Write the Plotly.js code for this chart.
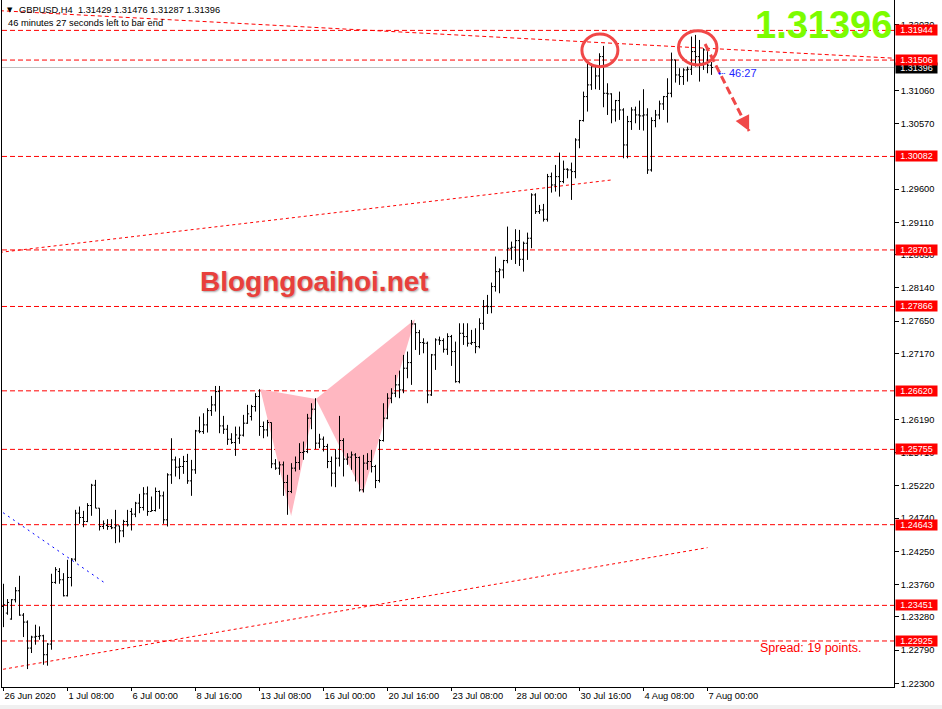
<!DOCTYPE html>
<html><head><meta charset="utf-8">
<script src="https://cdn.plot.ly/plotly-3.0.1.min.js"></script>
<style>html,body{margin:0;padding:0;background:#fff;}#chart{width:942px;height:709px;}</style>
</head><body><div id="chart"></div>
<script>
// ---- OHLC data (H4 bars, 26 Jun 2020 16:00 -> 7 Aug 2020 04:00) ----
const opens = [1.23435,1.23337,1.23249,1.23534,1.23667,1.23307,1.23204,1.22820,1.22983,1.22993,1.23002,1.22722,1.22879,1.23790,1.23952,1.23829,1.23593,1.23863,1.24134,1.24813,1.24749,1.24690,1.24926,1.25226,1.24887,1.24616,1.24631,1.24616,1.24597,1.24626,1.24552,1.24690,1.24838,1.24798,1.24961,1.24897,1.25098,1.24838,1.24852,1.25133,1.25069,1.24715,1.25379,1.25600,1.25492,1.25502,1.25576,1.25290,1.25453,1.26028,1.26018,1.26117,1.26328,1.26412,1.26609,1.26102,1.26053,1.25905,1.25856,1.25920,1.25965,1.26142,1.26240,1.26388,1.26536,1.26093,1.26043,1.26152,1.25542,1.25478,1.25527,1.25266,1.25133,1.25478,1.25561,1.25709,1.25724,1.26216,1.26349,1.25847,1.25906,1.25798,1.25576,1.25404,1.25625,1.25886,1.25611,1.25640,1.25674,1.25635,1.25158,1.25552,1.25576,1.25502,1.25296,1.25886,1.26216,1.26511,1.26585,1.26708,1.26634,1.26954,1.27037,1.27608,1.27480,1.27333,1.27323,1.26560,1.27151,1.27372,1.27362,1.27234,1.27421,1.27200,1.26756,1.27470,1.27421,1.27323,1.27333,1.27273,1.27618,1.27874,1.27864,1.28160,1.28381,1.28406,1.28544,1.28726,1.28741,1.28839,1.28563,1.28800,1.28874,1.29514,1.29267,1.29292,1.29154,1.29784,1.29661,1.29784,1.29711,1.29893,1.29883,1.29858,1.30326,1.30612,1.30966,1.31139,1.31409,1.31271,1.31557,1.31015,1.31006,1.30769,1.30907,1.30769,1.30252,1.30597,1.30769,1.30695,1.30681,1.30695,1.29883,1.30612,1.30695,1.30858,1.30966,1.31015,1.31508,1.31286,1.31262,1.31360,1.31370,1.31631,1.31557,1.31459,1.31656,1.31429];
const highs = [1.23770,1.23544,1.23544,1.23721,1.23888,1.23337,1.23229,1.23002,1.23165,1.23140,1.23017,1.22894,1.23918,1.24016,1.24001,1.23927,1.24124,1.24149,1.24862,1.24911,1.24847,1.24961,1.25246,1.25305,1.24887,1.24705,1.24724,1.24724,1.24862,1.24626,1.24715,1.24862,1.24887,1.24980,1.25098,1.25197,1.25207,1.25059,1.25192,1.25148,1.25133,1.25403,1.25920,1.25649,1.25625,1.25659,1.25689,1.25600,1.26043,1.26240,1.26289,1.26363,1.26545,1.26692,1.26692,1.26250,1.26117,1.25994,1.26092,1.26092,1.26265,1.26413,1.26413,1.26585,1.26644,1.26167,1.26191,1.26152,1.25611,1.25576,1.25576,1.25379,1.25552,1.25650,1.25847,1.25871,1.26280,1.26437,1.26511,1.25985,1.25945,1.25837,1.25650,1.25758,1.26250,1.25920,1.25699,1.25724,1.25699,1.25650,1.25674,1.25699,1.25748,1.25527,1.25906,1.26437,1.26585,1.26659,1.26855,1.26919,1.27151,1.27200,1.27667,1.27618,1.27520,1.27396,1.27347,1.27165,1.27396,1.27421,1.27396,1.27470,1.27446,1.27347,1.27618,1.27618,1.27618,1.27520,1.27544,1.27692,1.27962,1.28037,1.28219,1.28603,1.28430,1.28554,1.29046,1.28824,1.29007,1.28997,1.28824,1.28957,1.29538,1.29538,1.29366,1.29381,1.29824,1.29844,1.29957,1.30139,1.30021,1.29908,1.29991,1.30351,1.30622,1.31040,1.31459,1.31459,1.31409,1.31606,1.31715,1.31163,1.31015,1.30917,1.31040,1.30794,1.30681,1.30809,1.30818,1.30907,1.31075,1.30794,1.30661,1.30769,1.30907,1.30976,1.31237,1.31616,1.31508,1.31385,1.31385,1.31409,1.31853,1.31877,1.31803,1.31680,1.31656,1.31476];
const lows = [1.23130,1.23312,1.23239,1.23494,1.23298,1.22983,1.22510,1.22747,1.22870,1.22943,1.22574,1.22560,1.22796,1.23770,1.23770,1.23583,1.23583,1.23731,1.24100,1.24656,1.24606,1.24680,1.24774,1.24887,1.24557,1.24577,1.24567,1.24577,1.24370,1.24380,1.24459,1.24616,1.24557,1.24754,1.24813,1.24852,1.24774,1.24838,1.24838,1.24877,1.24656,1.24616,1.25246,1.25354,1.25315,1.25394,1.25246,1.25069,1.25394,1.25994,1.25984,1.26004,1.26250,1.26314,1.25994,1.25984,1.25822,1.25836,1.25659,1.25837,1.25945,1.26132,1.26181,1.26314,1.25955,1.25920,1.25945,1.25478,1.25453,1.25379,1.25069,1.24789,1.25109,1.25429,1.25453,1.25601,1.25699,1.26053,1.25758,1.25773,1.25724,1.25478,1.25207,1.25197,1.25502,1.25355,1.25527,1.25453,1.25281,1.25133,1.25119,1.25453,1.25414,1.25183,1.25266,1.25871,1.26201,1.26437,1.26526,1.26511,1.26585,1.26806,1.26708,1.27224,1.27151,1.27175,1.26437,1.26545,1.26929,1.27298,1.27185,1.27151,1.26988,1.26741,1.26731,1.27298,1.27273,1.27298,1.27175,1.27248,1.27520,1.27756,1.27766,1.28086,1.28061,1.28283,1.28504,1.28554,1.28494,1.28465,1.28381,1.28554,1.28726,1.29233,1.29233,1.29120,1.29120,1.29548,1.29563,1.29489,1.29686,1.29760,1.29440,1.29760,1.30203,1.30597,1.30745,1.31065,1.31075,1.31065,1.30809,1.30695,1.30572,1.30597,1.30622,1.30055,1.30055,1.30474,1.30572,1.30474,1.30464,1.29824,1.29858,1.30513,1.30631,1.30769,1.30582,1.30956,1.31173,1.31139,1.31139,1.31188,1.31286,1.31409,1.31188,1.31360,1.31311,1.31287];
const closes = [1.23460,1.23494,1.23534,1.23667,1.23307,1.23204,1.22820,1.22983,1.22993,1.23002,1.22722,1.22879,1.23790,1.23977,1.23829,1.23593,1.23863,1.24134,1.24813,1.24749,1.24690,1.24926,1.25226,1.24887,1.24616,1.24656,1.24616,1.24597,1.24626,1.24552,1.24690,1.24641,1.24798,1.24961,1.24897,1.25098,1.24838,1.24852,1.25133,1.25069,1.24715,1.25379,1.25600,1.25492,1.25502,1.25576,1.25290,1.25453,1.26028,1.26018,1.26117,1.26328,1.26412,1.26609,1.26102,1.26053,1.25905,1.25856,1.25969,1.25965,1.26142,1.26280,1.26388,1.26536,1.26093,1.26043,1.26152,1.25542,1.25478,1.25527,1.25266,1.25133,1.25478,1.25561,1.25709,1.25724,1.26216,1.26349,1.25847,1.25906,1.25798,1.25576,1.25404,1.25625,1.25886,1.25611,1.25640,1.25674,1.25635,1.25158,1.25552,1.25576,1.25502,1.25296,1.25886,1.26216,1.26511,1.26585,1.26708,1.26634,1.26954,1.27037,1.27608,1.27480,1.27333,1.27323,1.26560,1.27151,1.27372,1.27362,1.27234,1.27421,1.27200,1.26756,1.27470,1.27421,1.27323,1.27333,1.27273,1.27618,1.27864,1.27864,1.28160,1.28381,1.28406,1.28544,1.28726,1.28741,1.28839,1.28563,1.28800,1.28874,1.29514,1.29267,1.29292,1.29154,1.29784,1.29661,1.29784,1.29711,1.29893,1.29883,1.29858,1.30326,1.30612,1.30966,1.31139,1.31409,1.31271,1.31557,1.31015,1.31006,1.30769,1.30907,1.30769,1.30252,1.30597,1.30769,1.30695,1.30681,1.30695,1.29883,1.30612,1.30695,1.30858,1.30966,1.31015,1.31508,1.31286,1.31262,1.31360,1.31370,1.31631,1.31557,1.31459,1.31656,1.31430,1.31396];

// time axis labels (bar index of each label)
const timeTickIdx = [0,16,32,48,64,80,96,112,128,144,160,176];
const timeTickText = ["26 Jun 2020","1 Jul 08:00","6 Jul 00:00","8 Jul 16:00","13 Jul 08:00","16 Jul 00:00","20 Jul 16:00","23 Jul 08:00","28 Jul 00:00","30 Jul 16:00","4 Aug 08:00","7 Aug 00:00"];
// price axis labels (those fully hidden behind level tags are left out)
const priceTicks = [1.22300,1.22790,1.23280,1.23760,1.24250,1.24740,1.25220,1.25710,1.26190,1.27170,1.27650,1.28140,1.28630,1.29110,1.29600,1.30570,1.31060,1.32030];
// horizontal support/resistance levels
const levels = [1.31944,1.31506,1.30082,1.28701,1.27866,1.26620,1.25755,1.24643,1.23451,1.22925];
const currentPrice = 1.31396;
// trend lines: [idx0, price0, idx1, price1]
const trendUpper = [-0.9, 1.32235, 222.7, 1.31533];
const trendMiddle = [-0.9, 1.28665, 151.9, 1.29734];
const trendLower = [-0.1, 1.22507, 176.0, 1.24304];
const trendBlue = [-0.1, 1.24820, 25.7, 1.23767];
// harmonic pattern points X A B C D
const patIdx = [64.2, 71.9, 78.1, 89.85, 102.9];
const patPrice = [1.26643, 1.24771, 1.26499, 1.25111, 1.27677];
// double-top circles [idx0, idx1, price0, price1]
const circle1 = [144.6, 153.6, 1.31408, 1.31891];
const circle2 = [168.75, 178.35, 1.31433, 1.31940];
// forecast arrow
const arrowPts = [175.4, 1.31743, 186.4, 1.30458];

const idx = opens.map((_, i) => i);
const RED = '#FF0000';
const FONT = 'Liberation Sans, Arial, sans-serif';

const trace = {
  type: 'ohlc', x: idx, open: opens, high: highs, low: lows, close: closes,
  increasing: {line: {color: '#000000', width: 1}},
  decreasing: {line: {color: '#000000', width: 1}},
  tickwidth: 0.4, hoverinfo: 'skip', showlegend: false
};

const shapes = [];
// bottom grey status strip
shapes.push({type: 'rect', xref: 'paper', yref: 'paper', x0: -2/892, x1: 940/892, y0: -22/687, y1: -18/687,
  fillcolor: '#F0F0F0', line: {width: 0}, layer: 'below'});
function tri(a, b, c) {
  return {type: 'path', xref: 'x', yref: 'y', layer: 'below',
    path: `M ${patIdx[a]},${patPrice[a]} L ${patIdx[b]},${patPrice[b]} L ${patIdx[c]},${patPrice[c]} Z`,
    fillcolor: '#FFB7C1', line: {width: 0}};
}
shapes.push(tri(0, 1, 2));
shapes.push(tri(2, 3, 4));
levels.forEach(v => shapes.push({type: 'line', xref: 'paper', x0: 0, x1: 1, yref: 'y', y0: v, y1: v, layer: 'below',
  line: {color: RED, width: 1, dash: '5px,3px'}}));
shapes.push({type: 'line', xref: 'paper', x0: 0, x1: 1, yref: 'y', y0: currentPrice, y1: currentPrice, layer: 'below',
  line: {color: '#C0C0C0', width: 1}});
function tline(t, color, dash) {
  return {type: 'line', xref: 'x', yref: 'y', x0: t[0], y0: t[1], x1: t[2], y1: t[3], layer: 'below',
    line: {color: color, width: 1, dash: dash}};
}
shapes.push(tline(trendUpper, RED, '4px,3px'));
shapes.push(tline(trendMiddle, RED, '3px,3px'));
shapes.push(tline(trendLower, RED, '3px,3px'));
shapes.push(tline(trendBlue, '#0000FF', '2px,4px'));
[circle1, circle2].forEach(c => shapes.push({type: 'circle', xref: 'x', yref: 'y', x0: c[0], x1: c[1], y0: c[2], y1: c[3],
  line: {color: '#F04848', width: 3}}));
shapes.push({type: 'line', xref: 'x', yref: 'y', x0: arrowPts[0], y0: arrowPts[1], x1: arrowPts[2], y1: arrowPts[3],
  line: {color: '#F04848', width: 3, dash: '8px,4px'}});

function P(px, py) { return {x: (px - 2) / 892, y: (687 - py) / 687}; }
const ann = [];
function txt(px, py, text, opts) {
  const p = P(px, py);
  ann.push(Object.assign({xref: 'paper', yref: 'paper', x: p.x, y: p.y, text: text, showarrow: false,
    xanchor: 'left', yanchor: 'middle', font: {family: FONT, size: 9.3, color: '#000'}}, opts || {}));
}
// price tag for current price (drawn first, under red tags)
ann.push({xref: 'paper', x: 1, xanchor: 'left', xshift: 1, yref: 'y', y: currentPrice, yanchor: 'middle',
  text: currentPrice.toFixed(5), showarrow: false, bgcolor: '#000000', width: 41, height: 10, borderpad: 0,
  font: {family: FONT, size: 9, color: '#FFFFFF'}});
levels.forEach(v => ann.push({xref: 'paper', x: 1, xanchor: 'left', xshift: 1, yref: 'y', y: v, yanchor: 'middle',
  text: v.toFixed(5), showarrow: false, bgcolor: RED, width: 41, height: 10, borderpad: 0,
  font: {family: FONT, size: 9, color: '#FFFFFF'}}));
txt(5, 10.5, '▼', {font: {family: 'DejaVu Sans', size: 7, color: '#000'}});
txt(17, 10.5, 'GBPUSD,H4  1.31429 1.31476 1.31287 1.31396');
txt(6, 23.5, '46 minutes 27 seconds left to bar end');
txt(823, 25, '1.31396', {xanchor: 'center', font: {family: FONT, size: 38, color: '#7CFC00', weight: 700}});
txt(314, 282, 'Blogngoaihoi.net', {xanchor: 'center', font: {family: FONT, size: 28, color: '#E8403C', weight: 700,
  shadow: '1px 1px 2px rgba(0,0,0,0.35)'}});
txt(758, 648, 'Spread: 19 points.', {font: {family: FONT, size: 12.5, color: RED}});
txt(716, 73, '⇠', {font: {family: 'DejaVu Sans', size: 9, color: '#0000FF'}});
txt(727, 73, '46:27', {font: {family: FONT, size: 11, color: '#1E1EFF'}});
// arrow head
ann.push({xref: 'x', yref: 'y', x: arrowPts[2], y: arrowPts[3], text: '', showarrow: true, ax: -6, ay: -12,
  arrowhead: 2, arrowsize: 1, arrowwidth: 3, arrowcolor: '#F04848'});

const layout = {
  width: 942, height: 709,
  margin: {l: 2, r: 48, t: 0, b: 22},
  paper_bgcolor: '#FFFFFF', plot_bgcolor: '#FFFFFF',
  showlegend: false, dragmode: false,
  xaxis: {range: [-0.375, 222.625], tickvals: timeTickIdx, ticktext: timeTickText, ticks: 'outside', ticklen: 3,
    tickcolor: '#000', showline: true, linecolor: '#000', linewidth: 1, mirror: true, showgrid: false, zeroline: false,
    ticklabelposition: 'outside right', tickfont: {family: FONT, size: 9.3, color: '#000'},
    rangeslider: {visible: false}, fixedrange: true},
  yaxis: {side: 'right', range: [1.222453, 1.32393], tickvals: priceTicks, ticktext: priceTicks.map(v => v.toFixed(5)),
    ticks: 'outside', ticklen: 4, tickcolor: '#000', showline: true, linecolor: '#000', linewidth: 1, mirror: true,
    showgrid: false, zeroline: false, tickfont: {family: FONT, size: 9.3, color: '#000'}, fixedrange: true},
  shapes: shapes, annotations: ann
};
Plotly.newPlot('chart', [trace], layout, {displayModeBar: false, staticPlot: true});
</script></body></html>
